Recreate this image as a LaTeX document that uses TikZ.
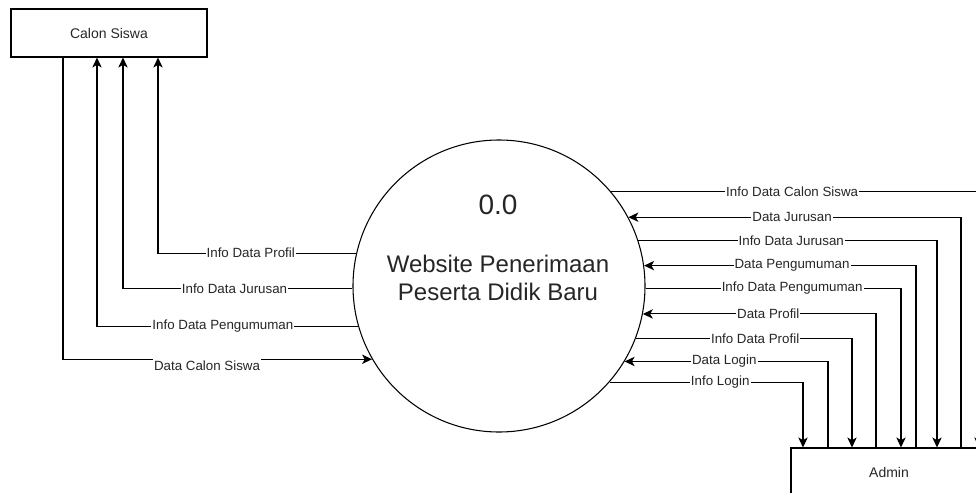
\documentclass[tikz,border=0pt]{standalone}
\usepackage{fontspec}
\setmainfont{Liberation Sans}
\usetikzlibrary{arrows.meta}
\begin{document}
\begin{tikzpicture}[x=0.75pt, y=-0.75pt,
  ent/.style={draw, rectangle, line width=0.8pt, minimum width=147pt, minimum height=36pt, inner sep=0pt, font=\fontsize{10.5}{12}\selectfont, text=black!85},
  flow/.style={draw, line width=0.8pt, -{Stealth[length=7.5pt,width=7pt,inset=2pt]}},
  lbl/.style={fill=white, inner sep=0.8pt, font=\fontsize{10}{12}\selectfont, text=black!85}]
\clip (0,0) rectangle (976,493);
\node[ent] (siswa) at (109,33){Calon Siswa};
\node[ent] (admin) at (889,472){Admin};
\node[circle, draw, line width=0.8pt, minimum size=219pt, inner sep=0pt] (proc) at (499,286){};
\node[font=\fontsize{21}{24}\selectfont, text=black!85] (num) at (498,205){0.0};
\node[align=center, font=\fontsize{18}{21}\selectfont, text=black!85] (title) at (498,278){Website Penerimaan\\Peserta Didik Baru};
% Calon Siswa <-> proses
\draw[flow](siswa.south -| 63,0) |- node[lbl, pos=0.733, yshift=-4.5pt]{Data Calon Siswa} (proc.210);
\draw[flow](proc.196) -| node[lbl, pos=0.259]{Info Data Pengumuman} (siswa.south -| 97,0);
\draw[flow](proc.181) -| node[lbl, pos=0.257]{Info Data Jurusan} (siswa.south -| 123,0);
\draw[flow](proc.167) -| node[lbl, pos=0.266]{Info Data Profil} (siswa.south -| 158,0);
% Admin <-> proses
\draw[flow](proc.40) -| node[lbl, pos=0.246]{Info Data Calon Siswa} (admin.north -| 979,0);
\draw[flow](admin.north -| 961,0) |- node[lbl, pos=0.754]{Data Jurusan} (proc.28);
\draw[flow](proc.18) -| node[lbl, pos=0.256]{Info Data Jurusan} (admin.north -| 937,0);
\draw[flow](admin.north -| 916,0) |- node[lbl, pos=0.728]{Data Pengumuman} (proc.8);
\draw[flow](proc.359) -| node[lbl, pos=0.287]{Info Data Pengumuman} (admin.north -| 901,0);
\draw[flow](admin.north -| 876,0) |- node[lbl, pos=0.731]{Data Profil} (proc.349);
\draw[flow](proc.339) -| node[lbl, pos=0.276]{Info Data Profil} (admin.north -| 852,0);
\draw[flow](admin.north -| 828,0) |- node[lbl, pos=0.755]{Data Login} (proc.329);
\draw[flow](proc.319) -| node[lbl, pos=0.286]{Info Login} (admin.north -| 803,0);
\end{tikzpicture}
\end{document}
